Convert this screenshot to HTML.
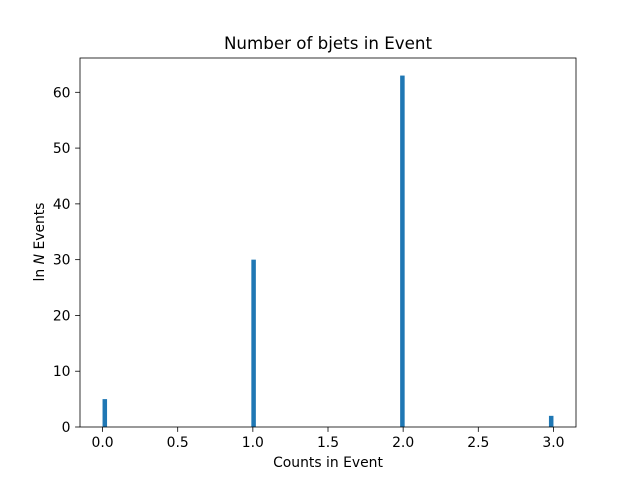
<!DOCTYPE html>
<html><head><meta charset="utf-8"><style>
body{margin:0;background:#fff;}
text{font-family:"DejaVu Sans","Liberation Sans",sans-serif;fill:#000;}
</style></head><body>
<svg id="chart" width="640" height="480" xmlns="http://www.w3.org/2000/svg">
<rect width="640" height="480" fill="#fff"/>
<g id="bars"></g>
<g id="axes"></g>
<text x="328" y="49" font-size="16.7" text-anchor="middle">Number of bjets in Event</text>
<text x="328" y="467" font-size="13.9" text-anchor="middle">Counts in Event</text>
<text transform="translate(44,242) rotate(-90)" font-size="13.9" text-anchor="middle">ln <tspan font-style="italic">N</tspan> Events</text>
</svg>
<script>
const binStarts = [0.0, 0.99, 1.98, 2.97];
const binCounts = [5, 30, 63, 2];
const binWidth = 0.03;
const xTicks = [0, 0.5, 1, 1.5, 2, 2.5, 3];
const xTickLabels = ["0.0","0.5","1.0","1.5","2.0","2.5","3.0"];
const yTicks = [0, 10, 20, 30, 40, 50, 60];
const yTickLabels = ["0","10","20","30","40","50","60"];

const L=80,R=576,T=58,B=427;
const xMin=-0.15,xMax=3.15,yMax=66.15;
const xs=v=>L+(v-xMin)/(xMax-xMin)*(R-L);
const ys=v=>B-v/yMax*(B-T);
const NS="http://www.w3.org/2000/svg";
const bars=document.getElementById('bars');
binStarts.forEach((s,i)=>{
  const r=document.createElementNS(NS,'rect');
  r.setAttribute('x',xs(s));
  r.setAttribute('width',xs(s+binWidth)-xs(s));
  r.setAttribute('y',ys(binCounts[i]));
  r.setAttribute('height',B-ys(binCounts[i]));
  r.setAttribute('fill','#1f77b4');
  
  
  bars.appendChild(r);
});
const ax=document.getElementById('axes');
const fr=document.createElementNS(NS,'rect');
fr.setAttribute('x',L);fr.setAttribute('y',T);fr.setAttribute('width',R-L);fr.setAttribute('height',B-T);
fr.setAttribute('fill','none');fr.setAttribute('stroke','#000');fr.setAttribute('stroke-width','0.8');


ax.appendChild(fr);
xTicks.forEach((t,i)=>{
  const x=xs(t);
  const l=document.createElementNS(NS,'line');
  l.setAttribute('x1',x);l.setAttribute('x2',x);l.setAttribute('y1',B);l.setAttribute('y2',B+4.9);
  l.setAttribute('stroke','#000');l.setAttribute('stroke-width','0.8');
  
  
  ax.appendChild(l);
  const tx=document.createElementNS(NS,'text');
  tx.setAttribute('x',x);tx.setAttribute('y',B+20);tx.setAttribute('font-size','13.9');tx.setAttribute('text-anchor','middle');
  tx.textContent=xTickLabels[i];
  
  
  ax.appendChild(tx);
});
yTicks.forEach((t,i)=>{
  const y=ys(t);
  const l=document.createElementNS(NS,'line');
  l.setAttribute('x1',L-4.9);l.setAttribute('x2',L);l.setAttribute('y1',y);l.setAttribute('y2',y);
  l.setAttribute('stroke','#000');l.setAttribute('stroke-width','0.8');
  
  
  ax.appendChild(l);
  const tx=document.createElementNS(NS,'text');
  tx.setAttribute('x',L-9.5);tx.setAttribute('y',y+5);tx.setAttribute('font-size','13.9');tx.setAttribute('text-anchor','end');
  tx.textContent=yTickLabels[i];
  
  
  ax.appendChild(tx);
});
</script>
</body></html>
